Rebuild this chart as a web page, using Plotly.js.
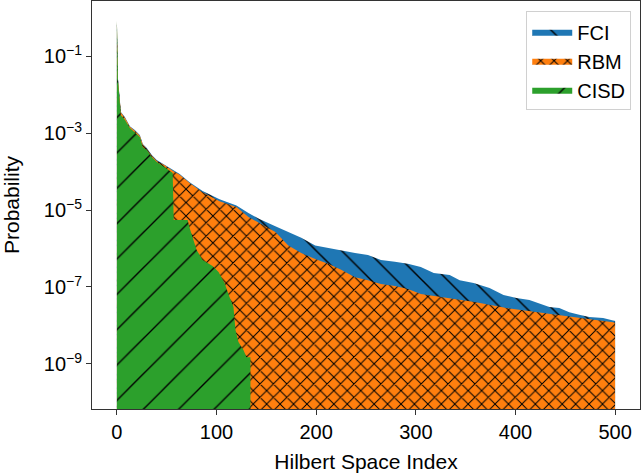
<!DOCTYPE html>
<html>
<head>
<meta charset="utf-8">
<script src="https://cdn.plot.ly/plotly-3.0.1.min.js"></script>
<style>
  html, body { margin: 0; padding: 0; background: #fff; }
  #chart { width: 643px; height: 475px; }
</style>
</head>
<body>
<div id="chart"></div>
<script>
// Breakpoints (Hilbert space index) and probabilities
const fciIndex = [0,1,4,8,13,18,23,26,30,35,40,48,56,63,73,86,103,120,132,143,159,172,185,199,212,225,239,252,265,279,292,305,318,334,344,358,374,388,401,414,424,434,444,454,464,474,488,498,500];
const fciProb = [8.1e-1,2.7e-2,3.5e-3,2.6e-3,1.5e-3,1.2e-3,8.9e-4,5.2e-4,4.1e-4,2.7e-4,2.0e-4,1.5e-4,1.1e-4,8.6e-5,5.3e-5,3.1e-5,1.9e-5,1.3e-5,8.4e-6,5.8e-6,3.8e-6,2.7e-6,1.9e-6,1.2e-6,1.03e-6,9.1e-7,7.6e-7,6.8e-7,5.0e-7,4.5e-7,4.0e-7,3.3e-7,2.3e-7,2.05e-7,1.5e-7,1.27e-7,9.4e-8,6.2e-8,5.2e-8,4.6e-8,3.8e-8,3.0e-8,2.85e-8,2.2e-8,1.9e-8,1.66e-8,1.57e-8,1.3e-8,1.3e-8];

const rbmIndex = [0,1,4,8,13,18,23,26,30,35,40,48,56,63,73,86,103,120,132,145,159,172,185,199,212,225,239,252,265,279,292,305,325,359,391,421,441,471,498,500];
const rbmProb = [8.1e-1,2.6e-2,3.4e-3,2.5e-3,1.45e-3,1.15e-3,8.5e-4,5.0e-4,3.9e-4,2.6e-4,1.9e-4,1.45e-4,1.05e-4,8.2e-5,5.0e-5,2.9e-5,1.7e-5,1.2e-5,6.6e-6,4.3e-6,2.7e-6,1.2e-6,7.6e-7,5.3e-7,4.0e-7,2.8e-7,1.8e-7,1.5e-7,1.2e-7,1.06e-7,8.9e-8,6.6e-8,5.5e-8,4.1e-8,2.85e-8,2.2e-8,1.9e-8,1.5e-8,1.2e-8,1.2e-8];

const cisdIndex = [0,1,4,8,13,18,23,26,30,35,40,48,56,57,71,73,76,80,86,96,102,108,113,117,119,122,127,130,134];
const cisdProb = [8.1e-1,2.4e-2,2.9e-3,2.2e-3,1.35e-3,1.06e-3,7.9e-4,4.3e-4,3.6e-4,2.4e-4,1.77e-4,1.3e-4,9.1e-5,5.5e-6,5.5e-6,3.4e-6,2.0e-6,9.1e-7,5.0e-7,3.5e-7,2.45e-7,1.27e-7,5.5e-8,3.0e-8,7.6e-9,3.7e-9,2.3e-9,1.5e-9,1.5e-9];

const seriesNames = ['FCI', 'RBM', 'CISD'];
const xTickVals = [0, 100, 200, 300, 400, 500];
const yTickVals = [1e-9, 1e-7, 1e-5, 1e-3, 1e-1];
const yTickText = ['10<sup>−9</sup>', '10<sup>−7</sup>', '10<sup>−5</sup>', '10<sup>−3</sup>', '10<sup>−1</sup>'];

const FONT = 'Liberation Sans, Arial, Helvetica, sans-serif';

function areaTrace(name, xs, ys, color, shape, size, solidity) {
  return {
    type: 'scatter', mode: 'lines', name: name,
    x: xs, y: ys,
    line: { shape: 'linear', width: 0, color: color },
    fill: 'tozeroy',
    fillcolor: color,
    fillpattern: { shape: shape, fgcolor: '#000000', bgcolor: color, size: size, solidity: solidity, fgopacity: 1 },
    hoverinfo: 'skip'
  };
}

const data = [
  areaTrace(seriesNames[0], fciIndex, fciProb, '#1f77b4', '\\', 18, 0.08),
  areaTrace(seriesNames[1], rbmIndex, rbmProb, '#ff7f0e', 'x', 9.5, 0.2),
  areaTrace(seriesNames[2], cisdIndex, cisdProb, '#2ca02c', '/', 25, 0.055)
];

const axisCommon = {
  showline: true, mirror: true, linecolor: '#333', linewidth: 1,
  ticks: 'outside', ticklen: 5, tickwidth: 1, tickcolor: '#333',
  showgrid: false, zeroline: false,
  tickfont: { family: FONT, size: 20, color: '#000' }
};

const layout = {
  width: 643, height: 475,
  margin: { l: 92, r: 3, t: 1, b: 66 },
  paper_bgcolor: '#fff', plot_bgcolor: '#fff',
  font: { family: FONT, size: 20, color: '#000' },
  showlegend: true,
  legend: {
    x: 0.984, xanchor: 'right', y: 0.975, yanchor: 'top',
    bgcolor: 'rgba(255,255,255,0.8)', bordercolor: '#d0d0d0', borderwidth: 1,
    font: { family: FONT, size: 20, color: '#000' },
    itemwidth: 40, tracegroupgap: 4
  },
  xaxis: Object.assign({}, axisCommon, {
    range: [-25, 525], tickvals: xTickVals,
    title: { text: 'Hilbert Space Index', font: { family: FONT, size: 21, color: '#000' }, standoff: 12 }
  }),
  yaxis: Object.assign({}, axisCommon, {
    type: 'log', range: [-10.17, 0.43],
    tickvals: yTickVals, ticktext: yTickText,
    title: { text: 'Probability', font: { family: FONT, size: 21, color: '#000' }, standoff: 18 }
  })
};

Plotly.newPlot('chart', data, layout, { displayModeBar: false, staticPlot: true });
</script>
</body>
</html>
